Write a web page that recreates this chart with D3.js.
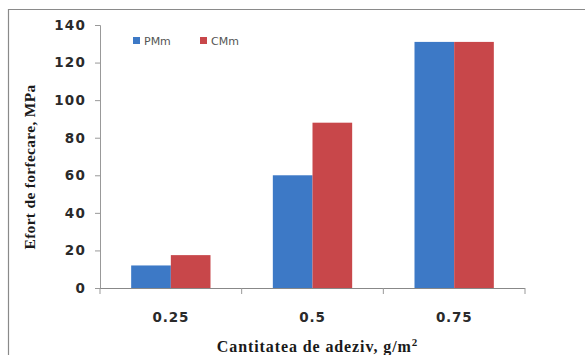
<!DOCTYPE html>
<html>
<head>
<meta charset="utf-8">
<script src="https://cdn.jsdelivr.net/npm/d3@7"></script>
<style>
  html, body { margin: 0; padding: 0; background: #fff; }
  svg { display: block; }
</style>
</head>
<body>
<svg id="chart" width="585" height="355"></svg>
<script>
// Adhesive quantity (g/m²) on the x axis
const categories = ["0.25", "0.5", "0.75"];
// Series names
const seriesNames = ["PMm", "CMm"];
// Shear stress values, MPa
const pmmValues = [12, 60, 131];
const cmmValues = [17.5, 88, 131];
// Y axis ticks
const yTicks = [0, 20, 40, 60, 80, 100, 120, 140];

const colors = { PMm: "#3d79c6", CMm: "#c8474a" };

const svg = d3.select("#chart");
const W = 585, H = 355;
const margin = { left: 100, right: 60, top: 25, bottom: 67 };
const plotW = W - margin.left - margin.right;   // 425
const plotH = H - margin.top - margin.bottom;   // 263

// Frame around the chart area
svg.append("path")
  .attr("d", `M8.5,${H} V9.5 H${W}`)
  .attr("fill", "none")
  .attr("stroke", "#8a8a8a")
  .attr("stroke-width", 1.2);

const g = svg.append("g").attr("transform", `translate(${margin.left},${margin.top})`);

const x0 = d3.scaleBand().domain(categories).range([0, plotW]).padding(0);
const x1 = d3.scaleBand().domain(seriesNames)
  .range([x0.bandwidth() * 0.22, x0.bandwidth() * 0.78]).padding(0);
const y = d3.scaleLinear().domain([0, 140]).range([plotH, 0]);

const rows = categories.map((c, i) => ({
  cat: c,
  vals: [{ s: "PMm", v: pmmValues[i] }, { s: "CMm", v: cmmValues[i] }]
}));

// Bars
const groups = g.selectAll(".grp").data(rows).join("g")
  .attr("transform", d => `translate(${x0(d.cat)},0)`);
groups.selectAll("rect").data(d => d.vals).join("rect")
  .attr("x", d => x1(d.s))
  .attr("y", d => y(d.v))
  .attr("width", x1.bandwidth())
  .attr("height", d => plotH - y(d.v))
  .attr("fill", d => colors[d.s]);

// Y axis
const yAxis = g.append("g").call(
  d3.axisLeft(y).tickValues(yTicks).tickSize(5).tickPadding(9).tickFormat(d3.format("d"))
);
yAxis.select(".domain").attr("stroke", "#999").attr("d", `M-5,0.5H0.5V${plotH}`);
yAxis.selectAll(".tick line").attr("stroke", "#999");
yAxis.selectAll("text")
  .attr("font-family", "DejaVu Sans, Verdana, sans-serif")
  .attr("font-size", 13.5)
  .attr("font-weight", "bold")
  .attr("letter-spacing", 1.2)
  .attr("fill", "#2a2a2a");

// X axis
const xAxis = g.append("g").attr("transform", `translate(0,${plotH})`);
xAxis.append("line").attr("x1", 0).attr("x2", plotW).attr("y1", 0.5).attr("y2", 0.5)
  .attr("stroke", "#888");
xAxis.selectAll(".xt").data(d3.range(categories.length + 1)).join("line")
  .attr("x1", i => i * x0.step()).attr("x2", i => i * x0.step())
  .attr("y1", 0).attr("y2", 6).attr("stroke", "#999");
xAxis.selectAll(".xl").data(categories).join("text")
  .attr("x", d => x0(d) + x0.bandwidth() / 2)
  .attr("y", 34)
  .attr("text-anchor", "middle")
  .attr("font-family", "DejaVu Sans, Verdana, sans-serif")
  .attr("font-size", 13.5)
  .attr("font-weight", "bold")
  .attr("letter-spacing", 0.8)
  .attr("fill", "#2a2a2a")
  .text(d => d);

// Axis titles
svg.append("text")
  .attr("transform", `translate(35,${margin.top + 142}) rotate(-90)`)
  .attr("text-anchor", "middle")
  .attr("font-family", "Liberation Serif, serif")
  .attr("font-size", 15.5)
  .attr("font-weight", "bold")
  .attr("letter-spacing", 0.3)
  .attr("fill", "#1a1a1a")
  .text("Efort de forfecare, MPa");

const xt = svg.append("text")
  .attr("x", margin.left + plotW / 2 + 5)
  .attr("y", 352)
  .attr("text-anchor", "middle")
  .attr("font-family", "Liberation Serif, serif")
  .attr("font-size", 16)
  .attr("font-weight", "bold")
  .attr("letter-spacing", 0.9)
  .attr("fill", "#1a1a1a");
xt.append("tspan").text("Cantitatea de adeziv, g/m");
xt.append("tspan").attr("dy", -6).attr("font-size", 11).text("2");

// Legend
const legend = svg.append("g").attr("transform", "translate(133,41)");
const li = legend.selectAll("g").data(seriesNames).join("g")
  .attr("transform", (d, i) => `translate(${i * 67},0)`);
li.append("rect").attr("x", 0).attr("y", -4).attr("width", 7).attr("height", 7)
  .attr("fill", d => colors[d]);
li.append("text").attr("x", 11).attr("y", 4)
  .attr("font-family", "DejaVu Sans, Verdana, sans-serif")
  .attr("font-size", 11)
  .attr("fill", "#555")
  .text(d => d);
</script>
</body>
</html>
